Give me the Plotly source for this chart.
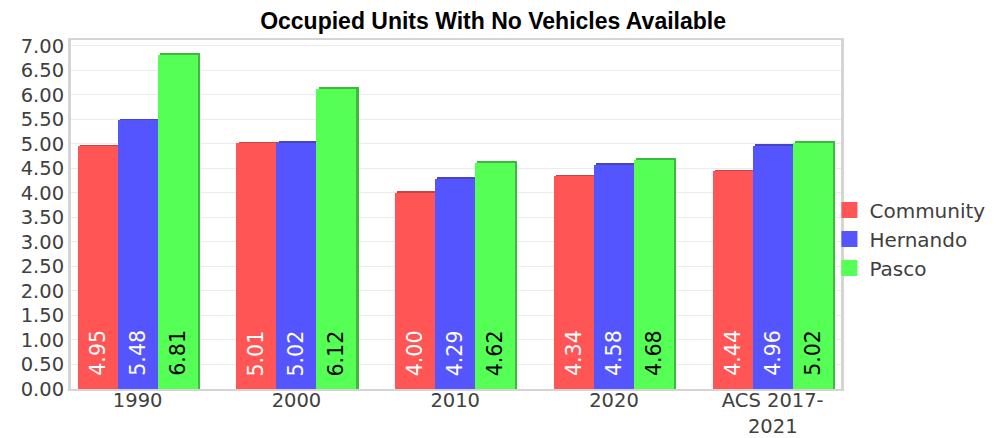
import plotly.graph_objects as go

categories = ["1990", "2000", "2010", "2020", "ACS 2017-<br>2021"]
series_names = ["Community", "Hernando", "Pasco"]
community = [4.95, 5.01, 4.00, 4.34, 4.44]
hernando = [5.48, 5.02, 4.29, 4.58, 4.96]
pasco = [6.81, 6.12, 4.62, 4.68, 5.02]
y_ticks = [0, 0.5, 1, 1.5, 2, 2.5, 3, 3.5, 4, 4.5, 5, 5.5, 6, 6.5, 7]

colors = ["#ff5555", "#5555ff", "#55ff55"]
shadow_colors = ["#c84444", "#4444c4", "#3fb83f"]
text_colors = ["white", "white", "black"]
offsets = [-0.378, -0.126, 0.126]
bar_w = 0.252

xs = list(range(len(categories)))
values = [community, hernando, pasco]
font_family = "DejaVu Sans, Verdana, sans-serif"
FS = 19.5

fig = go.Figure()
# shadow bars (3D edge effect)
for i, vals in enumerate(values):
    fig.add_trace(go.Bar(
        x=xs, y=[v + 0.035 for v in vals], width=bar_w, offset=offsets[i] + 0.014,
        marker=dict(color=shadow_colors[i], line=dict(width=0)),
        showlegend=False, hoverinfo="skip",
    ))
for i, vals in enumerate(values):
    fig.add_trace(go.Bar(
        x=xs, y=vals, name=series_names[i], width=bar_w, offset=offsets[i],
        marker=dict(color=colors[i], line=dict(width=0)),
        showlegend=False,
    ))
    for j, v in enumerate(vals):
        fig.add_annotation(
            x=xs[j] + offsets[i] + bar_w / 2, y=0, xref="x", yref="y",
            text=f"{v:.2f}", textangle=-90, showarrow=False,
            xanchor="center", yanchor="bottom", yshift=11,
            font=dict(color=text_colors[i], size=20.5, family=font_family),
        )
# legend entries with larger square swatches
for i, name in enumerate(series_names):
    fig.add_trace(go.Scatter(
        x=[None], y=[None], mode="markers", name=name,
        marker=dict(symbol="square", size=20, color=colors[i],
                    line=dict(color="#ffffff", width=0)),
    ))

# the page body has an 8px margin, so the figure is sized to the remaining viewport
fig.update_layout(
    width=994, height=430,
    barmode="overlay",
    margin=dict(l=63, r=152, t=32, b=49),
    paper_bgcolor="white", plot_bgcolor="white",
    title=dict(text="<b>Occupied Units With No Vehicles Available</b>",
               x=0.488, xanchor="center", y=0.97, yanchor="middle",
               font=dict(family="Liberation Sans, Arial, sans-serif", size=23, color="black")),
    font=dict(family=font_family, size=FS, color="#404040"),
    legend=dict(x=0.985, xanchor="left", y=0.43, yanchor="middle",
                font=dict(size=20, color="#404040"), itemwidth=30,
                tracegroupgap=0, bgcolor="rgba(0,0,0,0)"),
    xaxis=dict(range=[-0.42, 4.43], tickvals=xs, ticktext=categories,
               showgrid=False, showline=True, linecolor="#d4d4d4", linewidth=2,
               mirror=True, ticks="", zeroline=False, automargin=False,
               ticklabelstandoff=-7,
               tickfont=dict(size=FS, color="#404040")),
    yaxis=dict(range=[0, 7.12], tickvals=y_ticks, tickformat=".2f",
               showgrid=True, gridcolor="#ebebeb", gridwidth=1,
               showline=True, linecolor="#d4d4d4", linewidth=3, mirror=True,
               ticks="", zeroline=False, automargin=False,
               tickfont=dict(size=FS, color="#404040")),
    bargap=0,
)

fig.write_html("out.html")
